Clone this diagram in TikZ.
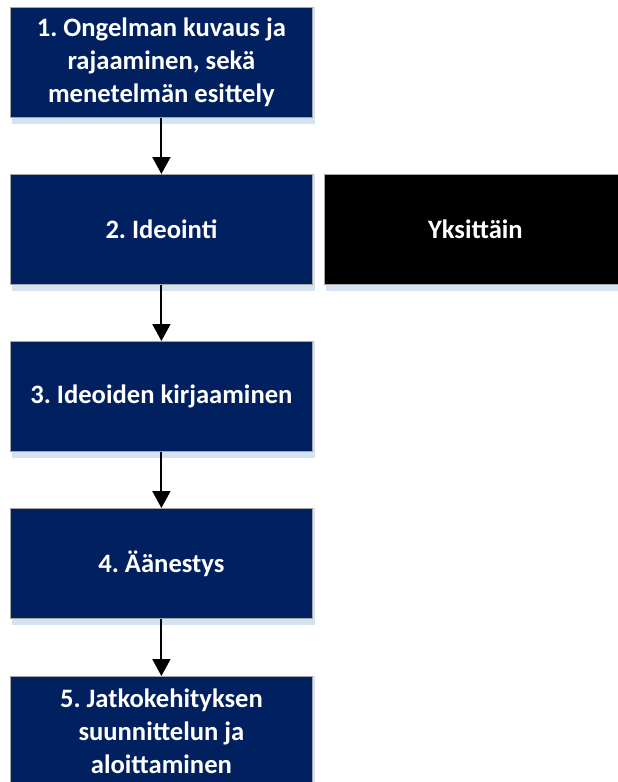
\documentclass[tikz,border=0pt]{standalone}
\usepackage{fontspec}
\setmainfont{Carlito}
\usetikzlibrary{arrows.meta,backgrounds}
\definecolor{navy}{HTML}{002060}
\definecolor{shadowblue}{HTML}{D5E2F2}
\definecolor{edgegray}{HTML}{A6A6A6}
\frenchspacing
\tikzset{
  stepbox/.style={rectangle, draw=edgegray, line width=0.8pt, fill=navy,
    minimum width=302pt, minimum height=110pt, inner sep=0pt,
    align=center, text=white,
    font=\fontsize{26.6}{33}\selectfont\bfseries, anchor=north west},
  sidebox/.style={stepbox, fill=black},
  flow/.style={-{Triangle[width=18pt,length=17pt]}, line width=2pt, black},
}
% pale reflection strip below and right of a box
\newcommand{\boxshadow}[1]{%
  \fill[shadowblue] ([xshift=2pt,yshift=-6pt]#1.south west) rectangle ([xshift=2pt]#1.north east);}
\begin{document}
\begin{tikzpicture}[x=1pt,y=-1pt]
\useasboundingbox (0,0) rectangle (618,782);
% steps of the process, top to bottom
\node[stepbox] (s1) at (10,7)   {1. Ongelman kuvaus ja\\rajaaminen, sekä\\menetelmän esittely};
\node[stepbox] (s2) at (10,174) {2. Ideointi};
\node[sidebox] (yk) at (324,174) {Yksittäin};
\node[stepbox] (s3) at (10,341) {3. Ideoiden kirjaaminen};
\node[stepbox] (s4) at (10,508) {4. Äänestys};
\node[stepbox] (s5) at (10,676) {5. Jatkokehityksen\\suunnittelun ja\\aloittaminen};
\begin{scope}[on background layer]
  \boxshadow{s1}\boxshadow{s2}\boxshadow{yk}\boxshadow{s3}\boxshadow{s4}\boxshadow{s5}
\end{scope}
% connectors
\draw[flow] (s1.south) -- (s2.north);
\draw[flow] (s2.south) -- (s3.north);
\draw[flow] (s3.south) -- (s4.north);
\draw[flow] (s4.south) -- (s5.north);
\end{tikzpicture}
\end{document}
